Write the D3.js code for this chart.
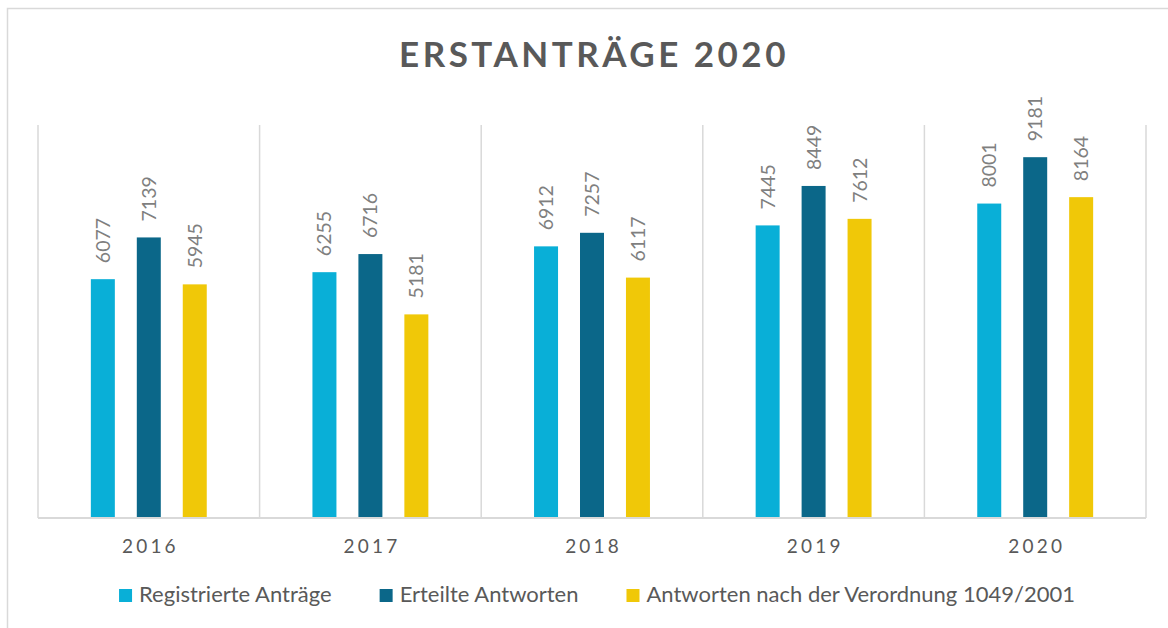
<!DOCTYPE html>
<html>
<head>
<meta charset="utf-8">
<title>Erstanträge 2020</title>
<style>
body { margin: 0; background: #fff; }
svg { display: block; font-family: Lato, 'Noto Sans', sans-serif; }
.title { fill: #595959; font-weight: 700; font-size: 35px; letter-spacing: 3.5px; text-anchor: middle; }
.value { fill: #7f7f7f; font-size: 19.5px; }
.year { fill: #595959; font-size: 19px; letter-spacing: 3.2px; text-anchor: middle; }
.legend-label { fill: #595959; font-size: 22px; }
.grid line { stroke: #d9d9d9; stroke-width: 1.5px; }
</style>
</head>
<body>
<svg width="1168" height="628"></svg>
<script src="https://d3js.org/d3.v7.min.js"></script>
<script>
// data
var years = ["2016", "2017", "2018", "2019", "2020"];
var seriesNames = ["Registrierte Anträge", "Erteilte Antworten", "Antworten nach der Verordnung 1049/2001"];
var registriert = [6077, 6255, 6912, 7445, 8001];
var erteilt = [7139, 6716, 7257, 8449, 9181];
var verordnung = [5945, 5181, 6117, 7612, 8164];
var colors = ["#09afd7", "#0b6789", "#f0c808"];

var seriesValues = [registriert, erteilt, verordnung];

var svg = d3.select("svg");
var margin = {top: 125, right: 22, bottom: 110, left: 38};
var width = +svg.attr("width"),
    height = +svg.attr("height");

// outer chart frame (runs off the right/bottom edge like the screenshot)
svg.append("rect")
  .attr("x", 7.5).attr("y", 8.5)
  .attr("width", 1200).attr("height", 700)
  .attr("fill", "none")
  .attr("stroke", "#d9d9d9")
  .attr("stroke-width", 1.5);

svg.append("text")
  .attr("class", "title")
  .attr("x", 594)
  .attr("y", 67)
  .text("ERSTANTRÄGE 2020");

var x0 = d3.scaleBand()
  .domain(years)
  .range([margin.left, width - margin.right]);

var x1 = d3.scaleBand()
  .domain(d3.range(seriesNames.length))
  .range([0, x0.bandwidth()])
  .paddingInner(0.478)
  .paddingOuter(1.15);

var y = d3.scaleLinear()
  .domain([0, 10000])
  .range([height - margin.bottom - 0, margin.top]);

// vertical gridlines at category boundaries
var grid = svg.append("g").attr("class", "grid");
grid.selectAll("line")
  .data(years.concat(["end"]))
  .enter().append("line")
  .attr("x1", function(d, i) { return i < years.length ? x0(d) : x0.range()[1]; })
  .attr("x2", function(d, i) { return i < years.length ? x0(d) : x0.range()[1]; })
  .attr("y1", y(10000))
  .attr("y2", y(0));

var rows = [];
years.forEach(function(yr, i) {
  seriesValues.forEach(function(vals, s) {
    rows.push({year: yr, s: s, value: vals[i]});
  });
});

var bars = svg.append("g");
bars.selectAll("rect")
  .data(rows)
  .enter().append("rect")
  .attr("x", function(d) { return x0(d.year) + x1(d.s); })
  .attr("y", function(d) { return y(d.value); })
  .attr("width", x1.bandwidth())
  .attr("height", function(d) { return y(0) - y(d.value); })
  .attr("fill", function(d) { return colors[d.s]; });

// rotated value labels
bars.selectAll("text")
  .data(rows)
  .enter().append("text")
  .attr("class", "value")
  .attr("transform", function(d) {
    var cx = x0(d.year) + x1(d.s) + x1.bandwidth() / 2;
    return "translate(" + cx + "," + (y(d.value) - 16) + ") rotate(-90)";
  })
  .attr("dy", "0.36em")
  .text(function(d) { return d.value; });

// x axis line
svg.append("line")
  .attr("x1", x0.range()[0]).attr("x2", x0.range()[1])
  .attr("y1", y(0)).attr("y2", y(0))
  .attr("stroke", "#d9d9d9")
  .attr("stroke-width", 2);

svg.append("g").selectAll("text")
  .data(years)
  .enter().append("text")
  .attr("class", "year")
  .attr("x", function(d) { return x0(d) + x0.bandwidth() / 2 + 1.6; })
  .attr("y", 553)
  .text(function(d) { return d; });

// legend
var legend = svg.append("g");
var items = legend.selectAll("g")
  .data(seriesNames)
  .enter().append("g");
items.append("rect")
  .attr("y", 589)
  .attr("width", 13)
  .attr("height", 13)
  .attr("fill", function(d, i) { return colors[i]; });
items.append("text")
  .attr("class", "legend-label")
  .attr("x", 20)
  .attr("y", 602)
  .text(function(d) { return d; });

var pos = 0, offsets = [];
items.each(function(d, i) {
  offsets.push(pos);
  pos += 20 + this.querySelector("text").getComputedTextLength() + 48;
});
var total = pos - 48;
var startX = 597 - total / 2;
items.attr("transform", function(d, i) { return "translate(" + (startX + offsets[i]) + ",0)"; });
</script>
</body>
</html>
